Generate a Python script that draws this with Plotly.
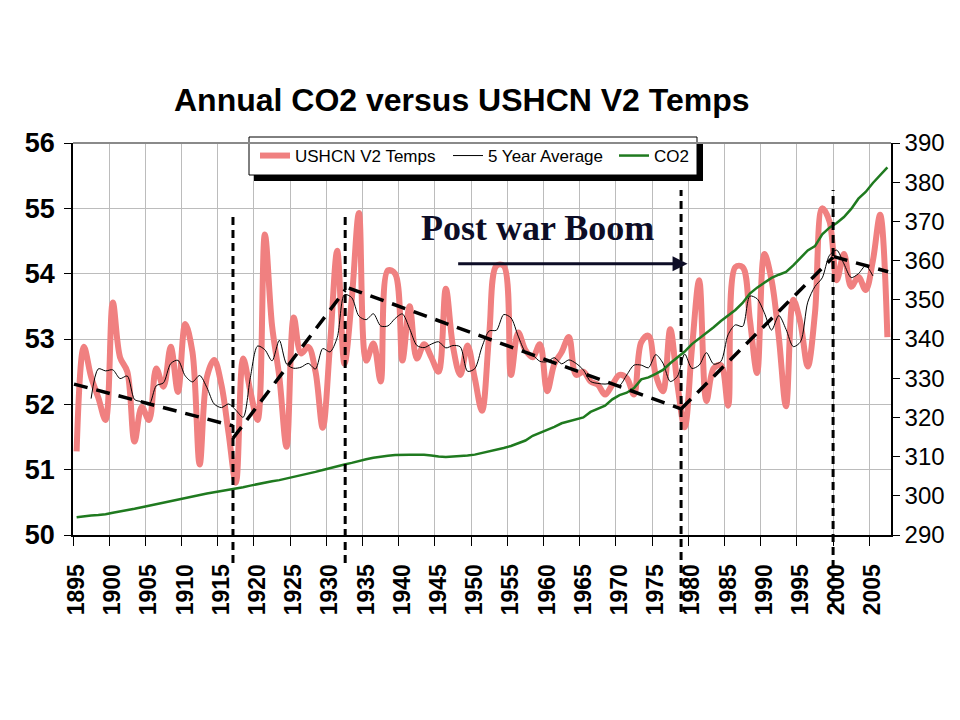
import plotly.graph_objects as go
import pandas as pd

# ---------------- data ----------------
years = list(range(1895, 2008))

ushcn_temps = [
    51.28, 52.88, 52.42, 52.10, 51.76, 53.56, 52.72, 52.50, 51.43, 51.96,   # 1895-1904
    51.76, 52.55, 52.27, 52.88, 52.19, 53.23, 52.80, 51.08, 52.42, 52.68,   # 1905-1914
    52.30, 51.55, 50.80, 52.70, 52.20, 51.76, 54.60, 53.20, 52.42, 51.35,   # 1915-1924
    53.33, 52.78, 52.88, 52.50, 51.64, 52.90, 54.35, 52.62, 53.60, 54.93,   # 1925-1934
    52.67, 52.93, 52.35, 54.05, 54.00, 52.67, 53.50, 52.70, 52.92, 52.72,   # 1935-1944
    52.50, 53.77, 52.88, 52.45, 52.90, 52.40, 51.90, 53.08, 54.12, 54.12,   # 1945-1954
    52.45, 53.10, 52.83, 52.72, 52.92, 52.20, 52.62, 52.80, 53.03, 52.45,   # 1955-1964
    52.50, 52.35, 52.30, 52.15, 52.30, 52.45, 52.40, 52.15, 52.95, 53.05,   # 1965-1974
    52.45, 52.20, 53.15, 52.30, 51.65, 52.85, 53.90, 52.05, 52.55, 52.60,   # 1975-1984
    51.98, 54.10, 54.10, 53.30, 52.48, 54.30, 53.90, 53.03, 51.97, 53.60,   # 1985-1994
    53.24, 52.58, 53.40, 55.00, 54.80, 53.90, 54.30, 53.80, 53.95, 53.75,   # 1995-2004
    54.20, 54.90, 53.03,                                                    # 2005-2007
]

co2_ppm = [
    294.5, 294.8, 295.0, 295.1, 295.3, 295.7, 296.0, 296.3, 296.7, 297.1,   # 1895-1904
    297.5, 297.9, 298.3, 298.7, 299.1, 299.5, 299.9, 300.3, 300.6, 300.9,   # 1905-1914
    301.2, 301.5, 301.8, 302.2, 302.6, 303.0, 303.4, 303.7, 304.0, 304.4,   # 1915-1924
    304.8, 305.2, 305.7, 306.1, 306.6, 307.1, 307.6, 308.0, 308.4, 308.9,   # 1925-1934
    309.3, 309.7, 310.0, 310.2, 310.4, 310.5, 310.5, 310.5, 310.5, 310.3,   # 1935-1944
    310.0, 309.9, 310.0, 310.2, 310.3, 310.5, 310.9, 311.3, 311.8, 312.2,   # 1945-1954
    312.7, 313.4, 314.1, 315.3, 316.0, 316.9, 317.6, 318.5, 319.0, 319.6,   # 1955-1964
    320.0, 321.4, 322.2, 323.0, 324.6, 325.7, 326.3, 327.5, 329.7, 330.2,   # 1965-1974
    331.1, 332.1, 333.8, 335.4, 336.8, 338.7, 340.1, 341.4, 343.0, 344.6,   # 1975-1984
    346.0, 347.4, 349.2, 351.6, 353.1, 354.4, 355.6, 356.4, 357.1, 358.8,   # 1985-1994
    360.8, 362.6, 363.7, 366.7, 368.4, 369.6, 371.1, 373.2, 375.8, 377.5,   # 1995-2004
    379.8, 381.9, 383.8,                                                    # 2005-2007
]

# hand-drawn trend segments (None separates the segments)
trend_years = [1894.64, 1916.6, None, 1916.6, 1932.1, None, 1932.6, 1978.5, None,
               1978.5, 1999.5, None, 1999.6, 2007.1]
trend_temps = [52.31, 51.67, None, 51.48, 53.75, None, 53.78, 51.93, None,
               51.93, 54.25, None, 54.26, 54.03]

# vertical dashed marker years
event_years = [1916.6, 1932.1, 1978.5, 1999.5]

tick_years = list(range(1895, 2006, 5))
tick_labels = [str(y) for y in tick_years]

# 5-year centred average of the temperature series
avg5 = pd.Series(ushcn_temps).rolling(5, center=True).mean()
avg5 = [None if pd.isna(v) else round(float(v), 3) for v in avg5]

# ---------------- figure ----------------
FONT = "Liberation Sans, Arial, sans-serif"
fig = go.Figure()

fig.add_trace(go.Scatter(
    x=years, y=ushcn_temps, name="USHCN V2 Temps", mode="lines",
    line=dict(color="#F08080", width=6, shape="spline", smoothing=1.0),
    legend="legend", hoverinfo="skip"))
fig.add_trace(go.Scatter(
    x=years, y=avg5, name="5 Year Average", mode="lines",
    line=dict(color="black", width=1, shape="spline", smoothing=0.8),
    legend="legend2", hoverinfo="skip"))
fig.add_trace(go.Scatter(
    x=years, y=co2_ppm, name="CO2", mode="lines", xaxis="x2", yaxis="y2",
    line=dict(color="#1f7a1f", width=2.5), legend="legend3", hoverinfo="skip"))
fig.add_trace(go.Scatter(
    x=trend_years, y=trend_temps, mode="lines", xaxis="x2", yaxis="y3",
    showlegend=False, connectgaps=False,
    line=dict(color="black", width=3.5, dash="14px,9px"), hoverinfo="skip"))

grid_x = [1894.5 + 5 * k for k in range(0, 23)]

# plot area geometry in pixels (for paper coordinates of decorations)
L, R, T, B = 73, 891, 143, 535
W, H = R - L, B - T
def px(xp):
    return (xp - L) / W
def py(yp):
    return (B - yp) / H

shapes = []
# legend shadow + box
shapes.append(dict(type="rect", xref="paper", yref="paper", layer="above",
                   x0=px(254), x1=px(703), y0=py(181), y1=py(142),
                   fillcolor="black", line=dict(width=0)))
shapes.append(dict(type="rect", xref="paper", yref="paper", layer="above",
                   x0=px(249), x1=px(697), y0=py(175), y1=py(137),
                   fillcolor="white", line=dict(color="black", width=1)))
# top border of plot area
shapes.append(dict(type="line", xref="paper", yref="paper", layer="above",
                   x0=0, x1=1, y0=1, y1=1, line=dict(color="#8a8a8a", width=2)))
# vertical dashed marker lines
v_tops = [py(214), py(214), py(190), py(190)]
v_bots = [py(563), py(563), py(612), py(607)]
for xv, t, b in zip(event_years, v_tops, v_bots):
    shapes.append(dict(type="line", xref="x", yref="paper", layer="above",
                       x0=xv, x1=xv, y0=b, y1=t,
                       line=dict(color="black", width=3, dash="8px,5px")))

annotations = [
    dict(text="<b>Post war Boom</b>", x=1958.7, y=54.70, xref="x", yref="y",
         showarrow=False, xanchor="center", yanchor="middle",
         font=dict(family="Liberation Serif, Times New Roman, serif", size=36,
                   color="#0d0d26")),
    dict(text="", x=1979.4, y=54.15, ax=1947.5, ay=54.15, xref="x", yref="y",
         axref="x", ayref="y", showarrow=True, arrowhead=2, arrowsize=1,
         arrowwidth=3, arrowcolor="#0d0d26"),
]

leg_common = dict(orientation="h", xanchor="left", yanchor="middle",
                  y=py(156), bgcolor="rgba(0,0,0,0)", borderwidth=0,
                  font=dict(family=FONT, size=17, color="black"))

fig.update_layout(
    width=960, height=720,
    margin=dict(l=L, r=960 - R, t=T, b=720 - B, pad=0),
    paper_bgcolor="white", plot_bgcolor="white",
    font=dict(family=FONT, color="black"),
    title=dict(text="<b>Annual CO2 versus USHCN V2 Temps</b>",
               x=0.481, xanchor="center", y=1 - 100 / 720, yanchor="middle",
               font=dict(family=FONT, size=32, color="black")),
    showlegend=True,
    legend=dict(x=px(255), **leg_common),
    legend2=dict(x=px(448), **leg_common),
    legend3=dict(x=px(614), **leg_common),
    xaxis=dict(range=[1894.5, 2007.5], tickvals=grid_x,
               ticktext=[""] * len(grid_x), ticks="outside", ticklen=9,
               tickcolor="black", tickwidth=1, showgrid=True,
               gridcolor="#bcbcbc", gridwidth=1, showline=True,
               linecolor="black", linewidth=1.5, zeroline=False,
               fixedrange=True),
    xaxis2=dict(overlaying="x", matches="x", anchor="y", side="bottom",
                tickvals=tick_years, ticktext=tick_labels, tickangle=-90,
                ticks="outside", ticklen=19, tickcolor="rgba(0,0,0,0)",
                showgrid=False, showline=False, zeroline=False,
                tickfont=dict(family=FONT, size=23, color="black", weight="bold")),
    yaxis=dict(range=[50, 56], tick0=50, dtick=1, ticks="outside", ticklen=7,
               tickcolor="black", showgrid=True, gridcolor="#bcbcbc",
               gridwidth=1, showline=True, linecolor="black", linewidth=1.5,
               zeroline=False, ticklabelstandoff=4,
               tickfont=dict(family=FONT, size=27, color="black", weight="bold")),
    yaxis2=dict(overlaying="y", side="right", anchor="x", range=[290, 390],
                tick0=290, dtick=10, ticks="outside", ticklen=7,
                tickcolor="black", showline=True, linecolor="black",
                linewidth=1.5, showgrid=False, zeroline=False,
                tickfont=dict(family=FONT, size=24, color="black")),
    yaxis3=dict(overlaying="y", matches="y", visible=False),
    shapes=shapes,
    annotations=annotations,
)

fig.write_html("out.html")
